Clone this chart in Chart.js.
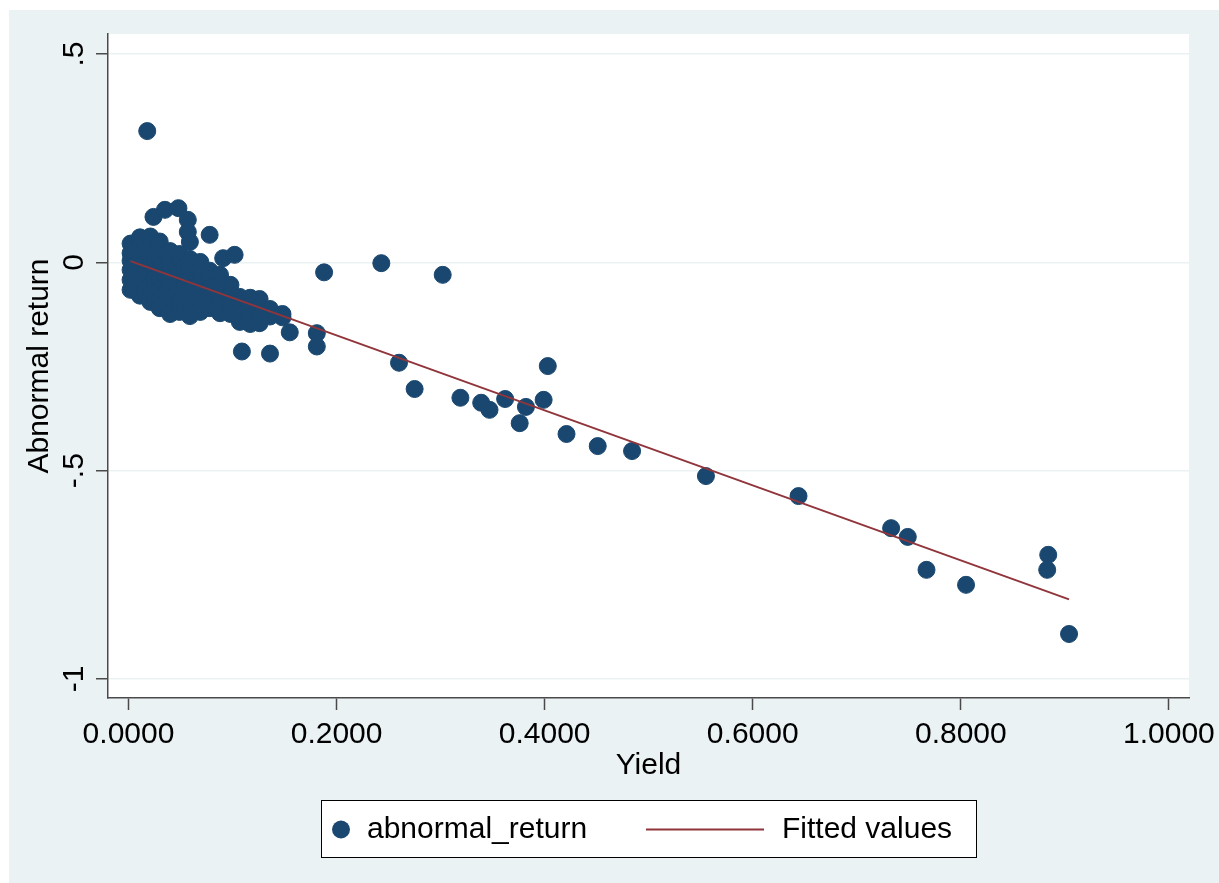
<!DOCTYPE html>
<html>
<head>
<meta charset="utf-8">
<title>Abnormal return vs Yield</title>
<script src="https://cdn.jsdelivr.net/npm/chart.js@4.4.1/dist/chart.umd.min.js"></script>
<style>
  html, body { margin: 0; padding: 0; background: #ffffff; }
  canvas { display: block; }
</style>
</head>
<body>
<canvas id="scatterChart" width="1219" height="883"></canvas>
<script>
const yieldValues = [
  // dense cluster near zero
  0.002, 0.002, 0.002, 0.002, 0.002, 0.002,
  0.006, 0.006, 0.006, 0.006, 0.006,
  0.011, 0.011, 0.011, 0.011, 0.011, 0.011, 0.011,
  0.016, 0.016, 0.016, 0.016, 0.016, 0.016,
  0.021, 0.021, 0.021, 0.021, 0.021, 0.021, 0.021, 0.021,
  0.025, 0.025, 0.025, 0.025, 0.025, 0.025,
  0.030, 0.030, 0.030, 0.030, 0.030, 0.030, 0.030, 0.030,
  0.035, 0.035, 0.035, 0.035, 0.035, 0.035,
  0.040, 0.040, 0.040, 0.040, 0.040, 0.040, 0.040, 0.040,
  0.049, 0.049, 0.049, 0.049, 0.049, 0.049, 0.049,
  0.054, 0.054, 0.054, 0.054, 0.054,
  0.059, 0.059, 0.059, 0.059, 0.059, 0.059, 0.059,
  0.069, 0.069, 0.069, 0.069, 0.069, 0.069,
  0.078, 0.078, 0.078, 0.078, 0.078,
  0.088, 0.088, 0.088, 0.088, 0.088,
  0.098, 0.098, 0.098, 0.098,
  0.107, 0.107, 0.107, 0.107,
  0.117, 0.117, 0.117, 0.117,
  0.126, 0.126, 0.126, 0.126,
  0.136, 0.136,
  0.148, 0.148,
  // arc and loose points above the cluster
  0.018, 0.024, 0.035, 0.048, 0.057, 0.057, 0.059,
  0.078, 0.091, 0.102,
  // loose points below / right of the cluster
  0.109, 0.136, 0.155, 0.181, 0.181, 0.188,
  // the rest
  0.243, 0.302, 0.260, 0.275, 0.319, 0.339, 0.347, 0.362, 0.382, 0.376,
  0.399, 0.403, 0.421, 0.451, 0.484, 0.555, 0.644, 0.733, 0.749, 0.767,
  0.805, 0.884, 0.883, 0.904
];
const returnValues = [
  0.045, 0.022, 0.004, -0.018, -0.042, -0.066,
  0.036, 0.014, -0.006, -0.030, -0.055,
  0.060, 0.039, 0.015, -0.009, -0.033, -0.057, -0.080,
  0.048, 0.025, -0.001, -0.022, -0.047, -0.070,
  0.062, 0.041, 0.017, -0.006, -0.030, -0.054, -0.078, -0.095,
  0.035, 0.011, -0.015, -0.040, -0.063, -0.086,
  0.050, 0.029, 0.006, -0.018, -0.042, -0.066, -0.090, -0.110,
  0.020, -0.004, -0.028, -0.052, -0.076, -0.099,
  0.027, 0.010, -0.014, -0.038, -0.062, -0.086, -0.110, -0.124,
  0.020, 0.001, -0.023, -0.047, -0.071, -0.095, -0.119,
  -0.010, -0.035, -0.060, -0.084, -0.107,
  0.008, -0.014, -0.038, -0.062, -0.086, -0.110, -0.129,
  0.001, -0.023, -0.047, -0.071, -0.095, -0.119,
  -0.020, -0.040, -0.062, -0.086, -0.110,
  -0.030, -0.054, -0.078, -0.102, -0.122,
  -0.054, -0.078, -0.102, -0.124,
  -0.083, -0.100, -0.120, -0.143,
  -0.085, -0.105, -0.129, -0.148,
  -0.088, -0.110, -0.130, -0.146,
  -0.112, -0.130,
  -0.124, -0.132,
  0.315, 0.109, 0.126, 0.130, 0.102, 0.073, 0.049,
  0.066, 0.010, 0.018,
  -0.214, -0.219, -0.168, -0.170, -0.202, -0.024,
  -0.002, -0.030, -0.241, -0.304, -0.325, -0.337, -0.354, -0.328, -0.347, -0.386,
  -0.330, -0.249, -0.412, -0.441, -0.453, -0.513, -0.561, -0.638, -0.659, -0.738,
  -0.774, -0.702, -0.738, -0.892
];

// fitted line end points
const fitYield = [0.002, 0.904];
const fitReturn = [0.003, -0.809];

const xTicks = [0, 0.2, 0.4, 0.6, 0.8, 1.0];
const yTicks = [-1, -0.5, 0, 0.5];
const yTickLabels = ["-1", "-.5", "0", ".5"];

const navy = "#1a476f";
const maroon = "#90353b";
const bgColor = "#eaf2f3";
const axisColor = "#4a4a4a";
const fontFamily = "'Liberation Sans', Arial, sans-serif";

const scatterPoints = yieldValues.map((x, i) => ({ x: x, y: returnValues[i] }));
const fitPoints = fitYield.map((x, i) => ({ x: x, y: fitReturn[i] }));

// paints the outer panel and the white plot region
const backgroundPlugin = {
    id: "stataBackground",
    beforeDraw(chart) {
        const ctx = chart.ctx;
        const a = chart.chartArea;
        ctx.save();
        ctx.fillStyle = "#ffffff";
        ctx.fillRect(0, 0, chart.width, chart.height);
        ctx.fillStyle = bgColor;
        ctx.fillRect(9, 10, chart.width - 9, chart.height - 10);
        ctx.fillStyle = "#ffffff";
        ctx.fillRect(a.left, a.top, a.right - a.left, a.bottom - a.top);
        ctx.restore();
    }
};

// vertical y tick labels and the boxed legend under the plot
const labelsPlugin = {
    id: "stataLabels",
    afterDraw(chart) {
        const ctx = chart.ctx;
        const yScale = chart.scales.y;
        ctx.save();
        ctx.font = "30px " + fontFamily;
        ctx.fillStyle = "#000000";
        ctx.textAlign = "center";
        ctx.textBaseline = "alphabetic";
        yTicks.forEach((v, i) => {
            const py = yScale.getPixelForValue(v);
            ctx.save();
            ctx.translate(83, py);
            ctx.rotate(-Math.PI / 2);
            ctx.fillText(yTickLabels[i], 0, 0);
            ctx.restore();
        });

        // legend box
        const boxX = 321, boxY = 800, boxW = 655, boxH = 57;
        const midY = boxY + boxH / 2 + 1;
        ctx.fillStyle = "#ffffff";
        ctx.fillRect(boxX, boxY, boxW, boxH);
        ctx.strokeStyle = "#000000";
        ctx.lineWidth = 1;
        ctx.strokeRect(boxX + 0.5, boxY + 0.5, boxW, boxH);

        const ds = chart.data.datasets;
        ctx.fillStyle = ds[1].backgroundColor;
        ctx.beginPath();
        ctx.arc(341, midY, 9, 0, Math.PI * 2);
        ctx.fill();

        ctx.strokeStyle = ds[0].borderColor;
        ctx.lineWidth = 2;
        ctx.beginPath();
        ctx.moveTo(646, midY);
        ctx.lineTo(764, midY);
        ctx.stroke();

        ctx.fillStyle = "#000000";
        ctx.textAlign = "left";
        ctx.textBaseline = "middle";
        ctx.fillText(ds[1].label, 367, midY);
        ctx.fillText(ds[0].label, 782, midY);
        ctx.restore();
    }
};

const ctxScatter = document.getElementById("scatterChart").getContext("2d");

const scatterChart = new Chart(ctxScatter, {
    type: "scatter",
    data: {
        datasets: [{
            type: "line",
            label: "Fitted values",
            data: fitPoints,
            borderColor: maroon,
            backgroundColor: maroon,
            borderWidth: 2,
            pointRadius: 0,
            fill: false,
            order: 1
        },
        {
            label: "abnormal_return",
            data: scatterPoints,
            backgroundColor: navy,
            borderColor: navy,
            borderWidth: 1,
            pointRadius: 8.5,
            pointHoverRadius: 8.5,
            order: 2
        }]
    },
    options: {
        responsive: false,
        devicePixelRatio: 1,
        animation: false,
        layout: {
            padding: { top: 34, right: 30, left: 0, bottom: 0 }
        },
        plugins: {
            legend: { display: false },
            tooltip: { enabled: false }
        },
        scales: {
            x: {
                type: "linear",
                min: -0.0197,
                max: 1.0193,
                afterBuildTicks: function(scale) {
                    scale.ticks = xTicks.map(v => ({ value: v }));
                },
                afterFit: function(scale) {
                    scale.height = 185;
                    // keep the end labels from pushing the plot area in
                    scale.paddingLeft = 0;
                    scale.paddingRight = 0;
                },
                ticks: {
                    padding: 7,
                    color: "#000000",
                    font: { family: fontFamily, size: 30 },
                    maxRotation: 0,
                    callback: v => Number(v).toFixed(4)
                },
                grid: {
                    drawOnChartArea: false,
                    drawTicks: true,
                    tickLength: 12,
                    tickColor: axisColor,
                    tickWidth: 1.5
                },
                border: { color: axisColor, width: 1.5 },
                title: {
                    display: true,
                    text: "Yield",
                    color: "#000000",
                    font: { family: fontFamily, size: 30 },
                    padding: { top: 0, bottom: 99 }
                }
            },
            y: {
                type: "linear",
                min: -1.0456,
                max: 0.548,
                afterBuildTicks: function(scale) {
                    scale.ticks = yTicks.map(v => ({ value: v }));
                },
                afterFit: function(scale) {
                    scale.width = 108;
                    scale.paddingTop = 0;
                    scale.paddingBottom = 0;
                },
                ticks: { display: false },
                grid: {
                    color: bgColor,
                    lineWidth: 1.5,
                    drawTicks: true,
                    tickLength: 12,
                    tickColor: axisColor,
                    tickWidth: 1.5
                },
                border: { color: axisColor, width: 1.5 },
                title: {
                    display: true,
                    text: "Abnormal return",
                    color: "#000000",
                    font: { family: fontFamily, size: 30 },
                    padding: { top: 22, bottom: 0 }
                }
            }
        }
    },
    plugins: [backgroundPlugin, labelsPlugin]
});
</script>
</body>
</html>
